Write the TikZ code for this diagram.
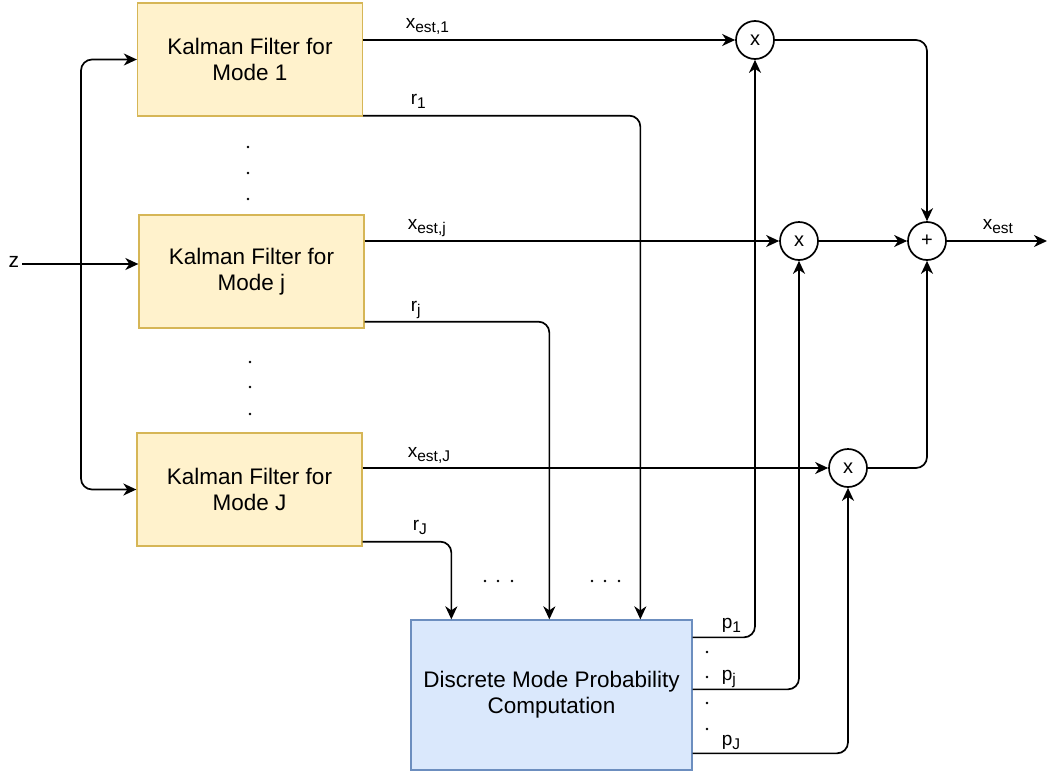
\documentclass[tikz,border=0pt]{standalone}
\usepackage{fontspec}
\setmainfont{Liberation Sans}
\usetikzlibrary{arrows.meta,calc}
\newcommand{\lsub}[1]{\raisebox{-4.5pt}{\fontsize{15.5}{16}\selectfont #1}}
\begin{document}
\begin{tikzpicture}[x=1pt,y=-1pt,
  line width=1.7pt,
  arr/.style={-{Stealth[length=13pt,width=12pt,inset=4pt]}},
  rc/.style={rounded corners=11pt},
  kf/.style={draw={rgb,255:red,214;green,182;blue,86}, fill={rgb,255:red,255;green,242;blue,204}, line width=1.3pt, minimum width=225pt, minimum height=113pt, inner sep=0pt, align=center, font=\fontsize{22.5}{26}\selectfont},
  dm/.style={draw={rgb,255:red,108;green,142;blue,191}, fill={rgb,255:red,218;green,232;blue,252}, line width=1.3pt, minimum width=281pt, minimum height=150pt, inner sep=0pt, align=center, font=\fontsize{22.5}{26}\selectfont},
  op/.style={draw, circle, fill=white, line width=1.7pt, minimum size=38pt, inner sep=0pt, font=\fontsize{20}{20}\selectfont},
  lab/.style={inner sep=0pt, anchor=base west, font=\fontsize{19}{20}\selectfont},
  dot/.style={fill=black}
]
\useasboundingbox (0,0) rectangle (1047,774);

% blocks
\node[kf] (kf1) at (250,59.5) {Kalman Filter for\\Mode 1};
\node[kf] (kfj) at (251.5,271.5) {Kalman Filter for\\Mode j};
\node[kf] (kfJ) at (249.5,489.5) {Kalman Filter for\\Mode J};
\node[dm] (dmp) at (551.5,695) {Discrete Mode Probability\\Computation};

% operators
\node[op] (x1) at (755,40) {x};
\node[op] (xj) at (799,241) {x};
\node[op] (plus) at (927,241) {+};
\node[op] (xJ) at (848,468) {x};

% input
\node[inner sep=2pt, font=\fontsize{21}{21}\selectfont] (z) at (14,262) {z};
\coordinate (split) at (81,264);
\coordinate (out) at (1047,241);
\draw[arr] (z.east |- split) -- (kfj.west |- split);
\draw[arr,rc] (split) |- (kf1);
\draw[arr,rc] (split) |- (kfJ);

% estimates
\draw[arr] (kf1.east |- x1) -- (x1);
\draw[arr] (kfj.east |- xj) -- (xj);
\draw[arr] (kfJ.east |- xJ) -- (xJ);

% residuals
\draw[arr,rc] ($(kf1.south east)+(0,-1)$) -| ($(dmp.north west)+(230,0)$);
\draw[arr,rc] ($(kfj.south east)+(0,-7)$) -| ($(dmp.north west)+(139,0)$);
\draw[arr,rc] ($(kfJ.south east)+(0,-5)$) -| ($(dmp.north west)+(41,0)$);

% probabilities
\draw[arr,rc] ($(dmp.north east)+(0,18)$) -| (x1);
\draw[arr,rc] ($(dmp.north east)+(0,70)$) -| (xj);
\draw[arr,rc] ($(dmp.north east)+(0,134)$) -| (xJ);

% sums
\draw[arr,rc] (x1) -| (plus);
\draw[arr] (xj) -- (plus);
\draw[arr,rc] (xJ) -| (plus);
\draw[arr] (plus) -- (out);

% labels
\node[lab] (lx1) at (405,28) {x\lsub{est,1}};
\node[lab] (lr1) at (410,104) {r\lsub{1}};
\node[lab] (lxj) at (407,229) {x\lsub{est,j}};
\node[lab] (lrj) at (410,311) {r\lsub{j}};
\node[lab] (lxJ) at (407,457) {x\lsub{est,J}};
\node[lab] (lrJ) at (412,530) {r\lsub{J}};
\node[lab] (lx) at (982,229) {x\lsub{est}};
\node[lab] (lp1) at (721,628) {p\lsub{1}};
\node[lab] (lpj) at (721,680) {p\lsub{j}};
\node[lab] (lpJ) at (721,745) {p\lsub{J}};

% dots
\foreach \y in {147,173,199} \fill[dot] (248,\y) circle (1.3);
\foreach \y in {362,387,414} \fill[dot] (250,\y) circle (1.3);
\foreach \x in {485,498,512,592,605,619} \fill[dot] (\x,581) circle (1.3);
\foreach \y in {652,677,703,729} \fill[dot] (707,\y) circle (1.3);
\end{tikzpicture}
\end{document}
